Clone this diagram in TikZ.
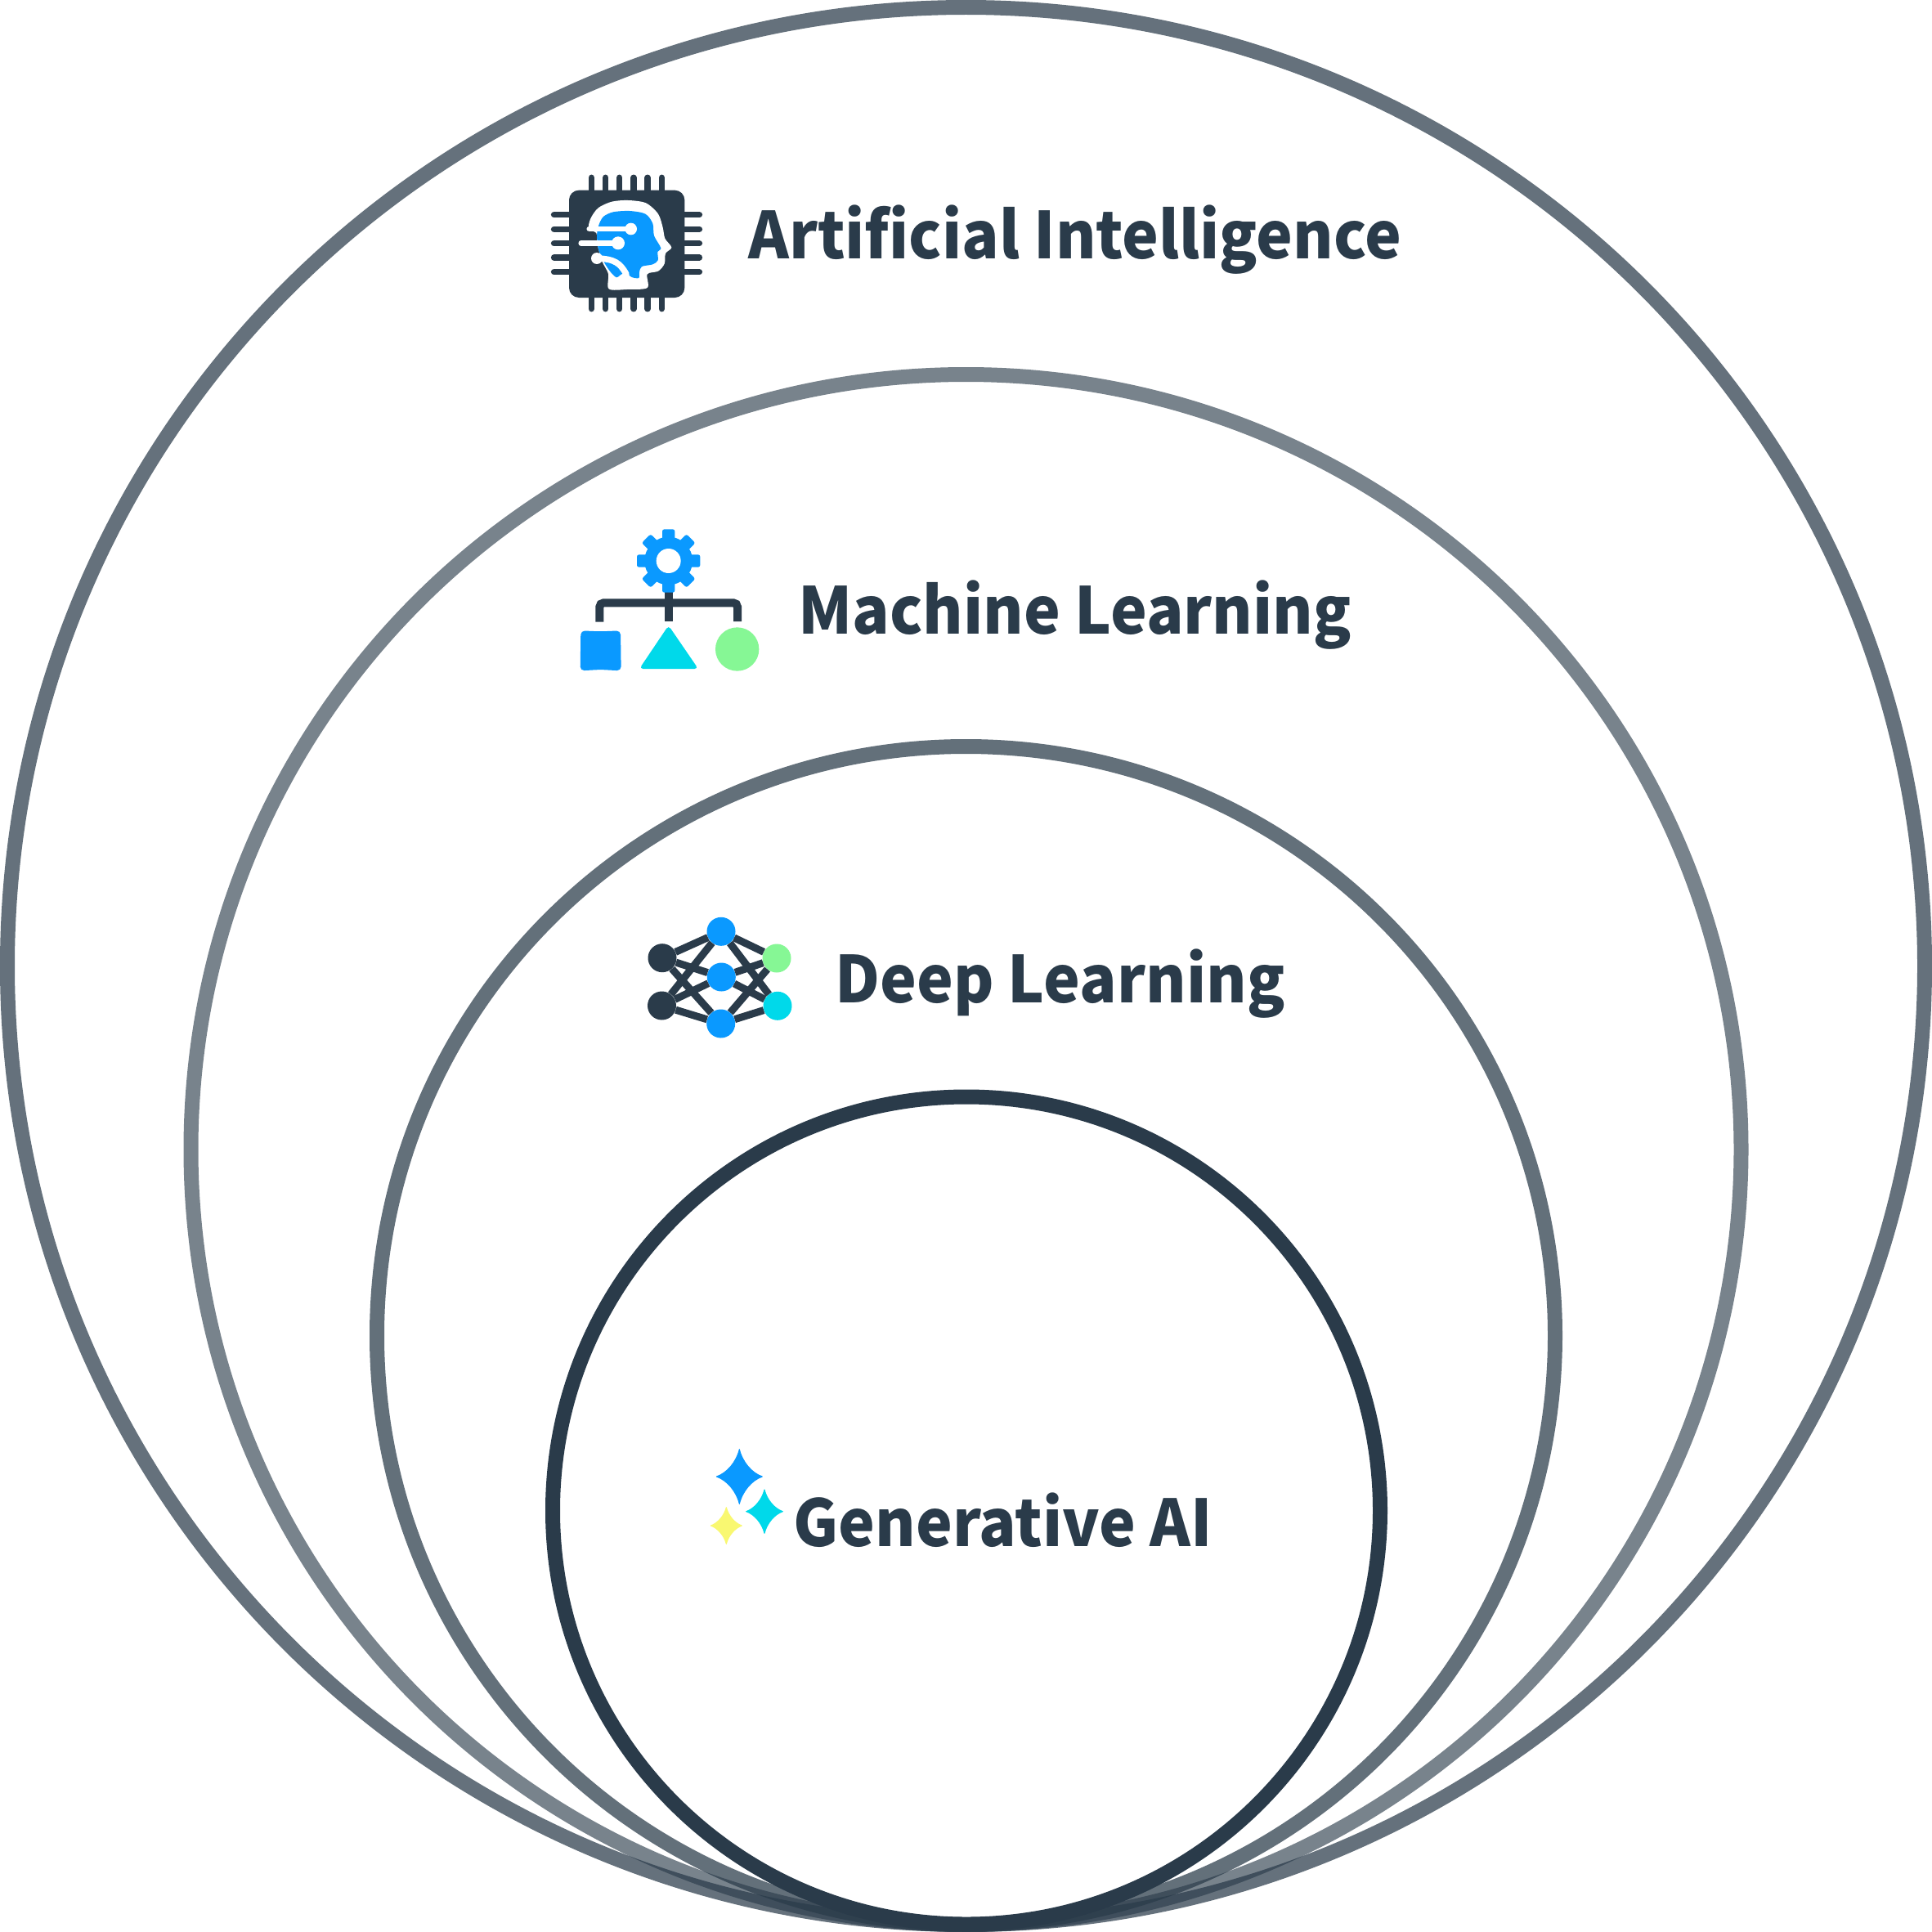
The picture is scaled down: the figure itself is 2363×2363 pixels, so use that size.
\documentclass[tikz,border=0pt]{standalone}
\usepackage{fontspec}
\newfontfamily\lab[FakeStretch=.955]{Noto Sans CJK SC Black}
\definecolor{ink}{HTML}{2A3B4A}
\definecolor{sky}{HTML}{0A99FF}
\definecolor{aqua}{HTML}{00D9EA}
\definecolor{mint}{HTML}{86F795}
\definecolor{lemon}{HTML}{F9F871}
\tikzset{
  ring/.style={draw=ink,line width=18pt,fill=none},
  lbl/.style={anchor=base west,inner sep=0pt,text=ink,font=\lab\fontsize{79}{96}\selectfont},
  zm/.style={x=.33333pt,y=-.33333pt},
  pin/.style={draw=ink,line width=7.6pt,line cap=round},
  trace/.style={draw=white,line width=6.5pt,line cap=round},
  nn/.style={circle,inner sep=0pt,minimum size=35pt},
  edge/.style={draw=ink,line width=9pt},
  tree/.style={draw=ink,line width=10pt}
}
\newcommand{\sparkle}[5]{% cx cy rx ry colour
  \fill[#5,line join=round,draw=#5,line width=1pt] (#1,#2-#4+3) .. controls (#1+.13*#3,#2-.52*#4) and (#1+.52*#3,#2-.13*#4) .. (#1+#3-3,#2)
   .. controls (#1+.52*#3,#2+.13*#4) and (#1+.13*#3,#2+.52*#4) .. (#1,#2+#4-3)
   .. controls (#1-.13*#3,#2+.52*#4) and (#1-.52*#3,#2+.13*#4) .. (#1-#3+3,#2)
   .. controls (#1-.52*#3,#2-.13*#4) and (#1-.13*#3,#2-.52*#4) .. cycle;}
\begin{document}
\begin{tikzpicture}[x=1pt,y=-1pt]
\useasboundingbox (0,0) rectangle (2363,2363);
\fill[white] (0,0) rectangle (2363,2363);
% rings
\draw[ring,draw opacity=.72] (1181.5,1181.5) circle[radius=1172.5];
\draw[ring,draw opacity=.63] (1181.5,1406) circle[radius=948];
\draw[ring,draw opacity=.73] (1181.5,1633.5) circle[radius=720.5];
\draw[ring] (1182,1847.5) circle[radius=506];
% labels
\node[lbl] (ai) at (915,316) {Artificial Intelligence};
\node[lbl] (ml) at (976,775) {Machine Learning};
\node[lbl] (dl) at (1021,1226) {Deep Learning};
\node[lbl] (ga) at (970,1891) {Generative AI};
% chip icon
\begin{scope}[shift={(650,190)},zm]
  \foreach \p in {220,272,323,375,426,478}{
    \draw[pin] (\p,82) -- (\p,140);
    \draw[pin] (\p,510) -- (\p,563);}
  \foreach \p in {218,271,323,375,428}{
    \draw[pin] (83,\p) -- (150,\p);
    \draw[pin] (550,\p) -- (616,\p);}
  \fill[ink,rounded corners=12pt] (138,128) rectangle (562,522);
  \fill[white] plot[smooth cycle,tension=.5] coordinates {(210,270) (217,232) (245,193) (295,170) (355,165) (420,175) (465,215) (482,265) (490,305) (514,338) (492,360) (488,398) (465,425) (425,436) (425,486) (350,492) (284,490) (282,435) (260,390) (240,320) (238,285)};
  \fill[ink] (150,290) rectangle (239,345);
  \fill[sky] plot[smooth cycle,tension=.5] coordinates {(250,248) (265,224) (300,208) (360,204) (418,215) (445,250) (450,295) (475,340) (463,354) (464,385) (445,400) (405,408) (396,428) (394,450) (368,447) (345,430) (325,440) (312,448) (292,430) (268,395) (246,345) (240,295) (244,268)};
  \draw[trace] (212,270) -- (365,270);
  \fill[white] (365,270) circle[radius=22];
  \draw[trace] (182,322) -- (318,322);
  \fill[white] (318,322) circle[radius=24];
  \draw[trace,line width=7.5pt] (240,378) .. controls (305,380) and (325,395) .. (348,436);
  \fill[white] (240,378) circle[radius=21];
\end{scope}
% machine-learning icon
\begin{scope}[shift={(680,630)},zm]
  \draw[tree,rounded corners=5pt] (160,392) -- (160,322) -- (666,322) -- (666,390);
  \draw[tree] (413,280) -- (413,390);
  \foreach \a in {0,45,...,315}
    \fill[sky,rounded corners=2.5pt,rotate around={\a:(413,168)}] (390,52) -- (390,120) -- (436,120) -- (436,52) -- cycle;
  \fill[sky] (413,168) circle[radius=88];
  \fill[white] (413,168) circle[radius=45];
  \fill[sky,rounded corners=5pt] (91,424) -- (163,427) -- (237,424) -- (239,571) -- (163,567) -- (89,571) -- cycle;
  \fill[aqua,rounded corners=4.5pt] (413,405) -- (522,564) -- (306,564) -- cycle;
  \fill[mint] (665,492) circle[radius=80];
\end{scope}
% deep-learning icon
\node[nn,fill=ink] (a1) at (810,1171.7) {};
\node[nn,fill=ink] (a2) at (809.5,1230) {};
\node[nn,fill=sky] (b1) at (882,1139.3) {};
\node[nn,fill=sky] (b2) at (882.3,1195) {};
\node[nn,fill=sky] (b3) at (881.7,1252) {};
\node[nn,fill=mint] (c1) at (950,1172) {};
\node[nn,fill=aqua] (c2) at (951,1230.3) {};
\foreach \s in {a1,a2}\foreach \t in {b1,b2,b3}\draw[edge] (\s) -- (\t);
\foreach \s in {b1,b2,b3}\foreach \t in {c1,c2}\draw[edge] (\s) -- (\t);
% sparkles
\begin{scope}[shift={(850,1750)},zm]
  \sparkle{163}{168}{87}{103}{sky}
  \sparkle{255}{296}{70}{83}{aqua}
  \sparkle{115}{348}{60}{70}{lemon}
\end{scope}
\end{tikzpicture}
\end{document}
